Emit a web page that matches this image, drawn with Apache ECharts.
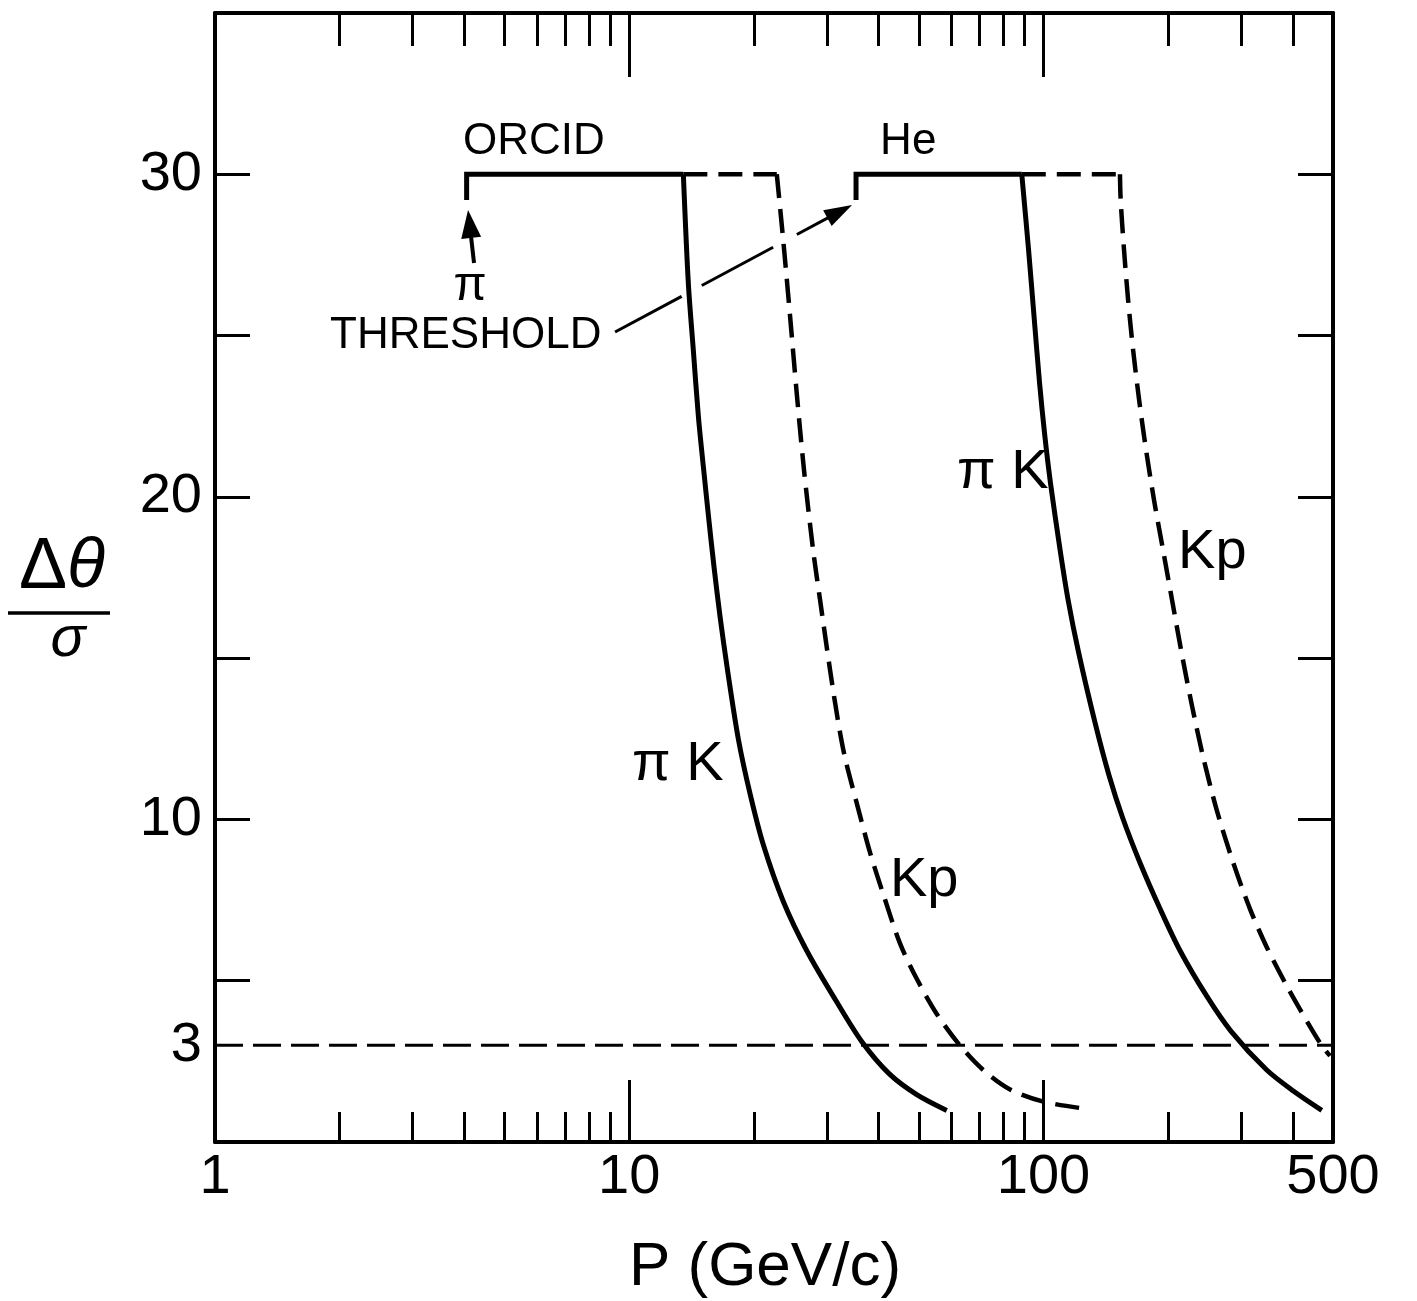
<!DOCTYPE html>
<html><head><meta charset="utf-8">
<script src="https://cdn.jsdelivr.net/npm/echarts@6/dist/echarts.min.js"></script>
<style>html,body{margin:0;padding:0;background:#fff}#c{width:1417px;height:1301px}</style>
</head><body><div id="c"></div>
<script>
// ---- axis ticks / labels ----
const xLabelValues = [1, 10, 100, 500];
const xMajorTicks = [10, 100];
const xMinorTicks = [2,3,4,5,6,7,8,9,20,30,40,50,60,70,80,90,200,300,400];
const yLabelValues = [3, 10, 20, 30];
const yTicks = [5, 10, 15, 20, 25, 30];

// ---- series: [P (GeV/c), Δθ/σ]; first points = threshold step + plateau ----
const orcidPiK = [[4.05,29.2],[4.05,30],[13.51,30],[13.89,26.62],[14.28,24.55],[14.69,22.48],[15.10,20.93],[15.54,19.38],[16.02,17.83],[16.57,16.28],[17.27,14.63],[18.36,12.46],[19.63,10.73],[21.10,9.19],[23.56,7.45],[26.83,5.93],[31.49,4.40],[36.48,3.10],[42.39,2.12],[49.44,1.47],[58.42,0.98]];
const orcidKp = [[13.51,30],[22.71,30],[23.56,27.90],[24.45,25.60],[25.37,23.22],[26.42,20.83],[27.79,18.35],[28.89,16.80],[30.54,14.63],[31.98,12.99],[33.19,11.91],[35.43,10.50],[38.14,8.97],[41.07,7.67],[45.07,6.15],[49.44,5.06],[55.26,3.97],[62.89,2.99],[71.59,2.23],[83.06,1.63],[99.94,1.25],[124.8,1.04]];
const hePiK = [[35.28,29.2],[35.28,30],[88.65,30],[92.06,27.65],[94.92,25.58],[97.87,23.52],[100.6,21.97],[104.0,20.42],[109.7,18.35],[114.7,16.80],[121.6,15.17],[133.2,13.00],[144.0,11.36],[155.2,10.06],[171.1,8.65],[191.2,7.23],[213.7,5.93],[247.9,4.52],[283.8,3.43],[346.0,2.23],[401.1,1.58],[469.8,0.98]];
const heKp = [[88.65,30],[153.0,30],[153.6,29.20],[156.5,27.65],[160.1,26.10],[164.6,24.55],[170.2,23.00],[176.9,21.45],[184.9,19.90],[194.4,18.35],[204.4,16.80],[214.9,15.25],[228.1,13.55],[243.3,11.90],[262.0,10.29],[287.3,8.65],[315.3,7.22],[346.0,6.04],[386.7,4.84],[432.2,3.75],[469.8,2.99],[491.9,2.67]];
const limitLine = [[1,3],[500,3]];

// ---- annotation texts (data coordinates) ----
const annotations = [
  {text:'ORCID', at:[3.97,31.0], size:44},
  {text:'He', at:[40.33,31.0], size:44},
  {text:'π', at:[4.13,26.5], size:48, align:'center'},
  {text:'THRESHOLD', at:[1.896,24.98], size:44},
  {text:'π K', at:[10.16,11.69], size:56},
  {text:'Kp', at:[42.6,8.09], size:56},
  {text:'π K', at:[61.84,20.75], size:56},
  {text:'Kp', at:[211.3,18.27], size:56}
];
const piArrow = {from:[4.22,27.25], to:[4.082,28.89]};
const thrArrow = {from:[9.242,25.11], to:[34.51,29.05], pieces:[[0,0.281],[0.366,0.667],[0.767,1]]};

const FONT = '"Liberation Sans", Arial, sans-serif';
const chart = echarts.init(document.getElementById('c'), null, {renderer:'canvas', width:1417, height:1301});

function xAx(pos, ticks, len, showLine, labels) {
  return {
    type:'log', logBase:10, min:1, max:500, position:pos, gridIndex:0,
    axisLine:{show:showLine, onZero:false, lineStyle:{color:'#000', width:4}},
    axisTick:{show:true, inside:true, length:len, customValues:ticks, lineStyle:{color:'#000', width:3}},
    axisLabel: labels ? {show:true, customValues:labels, margin:8, color:'#000', fontSize:56, fontFamily:FONT,
      showMinLabel:true, showMaxLabel:true, formatter: v => String(Math.round(v))} : {show:false},
    splitLine:{show:false}, minorTick:{show:false}, minorSplitLine:{show:false}
  };
}
function yAx(pos, labels) {
  return {
    type:'value', min:0, max:35, interval:5, position:pos, gridIndex:0,
    axisLine:{show:true, onZero:false, lineStyle:{color:'#000', width:4}},
    axisTick:{show:true, inside:true, length:35, customValues:yTicks, lineStyle:{color:'#000', width:3}},
    axisLabel: labels ? {show:true, customValues:labels, margin:13, color:'#000', fontSize:56, fontFamily:FONT,
      showMinLabel:true, showMaxLabel:true} : {show:false},
    splitLine:{show:false}
  };
}
function lineSeries(name, data, type, width, smooth) {
  return {type:'line', name, data, xAxisIndex:0, yAxisIndex:0, showSymbol:false, symbol:'none',
    smooth:smooth, silent:true, z:3,
    lineStyle:{color:'#000', width, type, cap:'butt', join:'miter'}};
}
const D = [24, 11];
chart.setOption({
  animation:false,
  backgroundColor:'#fff',
  grid:{left:215, right:84, top:13, bottom:159},
  xAxis:[
    xAx('bottom', xMajorTicks, 62, true, xLabelValues),
    xAx('bottom', xMinorTicks, 30, false, null),
    xAx('top', xMajorTicks, 64, true, null),
    xAx('top', xMinorTicks, 33, false, null)
  ],
  yAxis:[yAx('left', yLabelValues), yAx('right', null)],
  series:[
    lineSeries('ORCID πK step', orcidPiK.slice(0,3), 'solid', 5, false),
    lineSeries('ORCID πK', orcidPiK.slice(2), 'solid', 5, 0.3),
    lineSeries('ORCID Kp step', orcidKp.slice(0,2), D, 4.5, false),
    lineSeries('ORCID Kp', orcidKp.slice(1), D, 4.5, 0.3),
    lineSeries('He πK step', hePiK.slice(0,3), 'solid', 5, false),
    lineSeries('He πK', hePiK.slice(2), 'solid', 5, 0.3),
    lineSeries('He Kp step', heKp.slice(0,2), D, 4.5, false),
    lineSeries('He Kp', heKp.slice(1), D, 4.5, 0.3),
    lineSeries('3σ', limitLine, [28, 10], 3, false)
  ]
});

function px(p){ return chart.convertToPixel({xAxisIndex:0, yAxisIndex:0}, p); }
function arrowHead(tip, from, len, half){
  const dx = tip[0]-from[0], dy = tip[1]-from[1], L = Math.hypot(dx,dy);
  const ux = dx/L, uy = dy/L, bx = tip[0]-ux*len, by = tip[1]-uy*len;
  return {type:'polygon', z:10, shape:{points:[tip,[bx-uy*half, by+ux*half],[bx+uy*half, by-ux*half]]}, style:{fill:'#000'}};
}
const g = [];
annotations.forEach(a => {
  const p = px(a.at);
  g.push({type:'text', x:p[0], y:p[1], z:10, style:{text:a.text, fontSize:a.size, fontFamily:FONT, fill:'#000',
    align:a.align || 'left', verticalAlign:'middle'}});
});
{
  const a = px(piArrow.from), b = px(piArrow.to);
  const dx=b[0]-a[0], dy=b[1]-a[1], L=Math.hypot(dx,dy);
  g.push({type:'line', z:10, shape:{x1:a[0], y1:a[1], x2:b[0]-dx/L*20, y2:b[1]-dy/L*20}, style:{stroke:'#000', lineWidth:4}});
  g.push(arrowHead(b, a, 28, 10));
}
{
  const a = px(thrArrow.from), b = px(thrArrow.to);
  const dx=b[0]-a[0], dy=b[1]-a[1], L=Math.hypot(dx,dy);
  thrArrow.pieces.forEach(pc => {
    const t1 = pc[1] === 1 ? 1 - 20/L : pc[1];
    g.push({type:'line', z:10, shape:{x1:a[0]+dx*pc[0], y1:a[1]+dy*pc[0], x2:a[0]+dx*t1, y2:a[1]+dy*t1},
      style:{stroke:'#000', lineWidth:3}});
  });
  g.push(arrowHead(b, a, 28, 9));
}
g.push({type:'text', x:62, y:568, z:10, style:{text:'{a|Δ}{b|θ}', align:'center', verticalAlign:'middle',
  rich:{a:{fontSize:72, fontFamily:FONT, fill:'#000'}, b:{fontSize:70, fontFamily:FONT, fontStyle:'italic', fill:'#000'}}}});
g.push({type:'line', z:10, shape:{x1:8, y1:613, x2:110, y2:613}, style:{stroke:'#000', lineWidth:3.5}});
g.push({type:'text', x:68, y:640, z:10, style:{text:'σ', fontSize:58, fontFamily:FONT, fontStyle:'italic', fill:'#000', align:'center', verticalAlign:'middle'}});
g.push({type:'text', x:765, y:1268, z:10, style:{text:'P (GeV/c)', fontSize:62, fontFamily:FONT, fill:'#000', align:'center', verticalAlign:'middle'}});
chart.setOption({graphic:g});
</script></body></html>
